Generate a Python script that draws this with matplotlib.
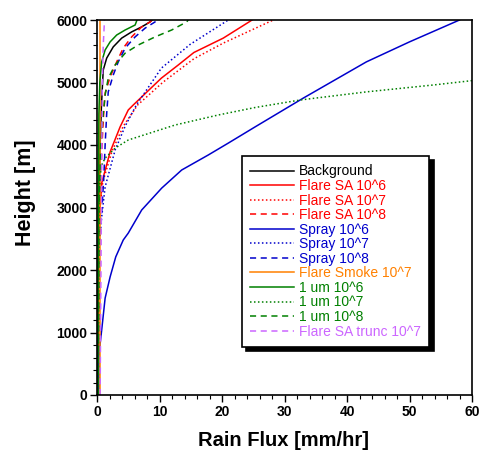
import matplotlib
matplotlib.use("Agg")
import matplotlib.pyplot as plt

plt.rcParams['font.family'] = ['Liberation Sans', 'DejaVu Sans']
plt.rcParams['font.weight'] = 'bold'

# ---- data (rain flux [mm/hr], height [m]) ----
bg_x = [0.1, 0.2, 0.4, 0.5, 0.7, 0.85, 1.0, 1.55, 2.6, 3.95, 5.55, 7.15, 8.5, 8.8]
bg_y = [0, 2000, 3500, 4000, 4600, 4910, 5200, 5390, 5570, 5710, 5810, 5890, 5970, 6000]

sa6_x = [0.2, 0.3, 0.5, 0.75, 2.1, 3.7, 5.0, 5.8, 10.3, 13.0, 15.5, 20.2, 24.5, 24.8]
sa6_y = [0, 2500, 3000, 3390, 3890, 4290, 4560, 4640, 5070, 5280, 5480, 5710, 5980, 6000]

sa7_x = [0.2, 0.3, 0.5, 0.9, 2.4, 4.2, 6.5, 10.5, 15.5, 20.2, 28.2]
sa7_y = [0, 2500, 3000, 3400, 3900, 4300, 4640, 5000, 5380, 5630, 6000]

sa8_x = [0.15, 0.3, 0.4, 0.6, 0.8, 1.0, 1.3, 2.1, 3.15, 4.2, 5.55, 7.15, 8.5, 8.8]
sa8_y = [0, 2000, 3000, 3500, 4000, 4400, 4830, 5090, 5330, 5550, 5730, 5890, 5970, 6000]

sp6_x = [0.3, 0.3, 0.75, 1.3, 2.1, 3.0, 4.2, 5.0, 7.15, 10.35, 13.55, 17.8, 21.0, 25.3, 33.0, 43.1, 50.0, 58.0]
sp6_y = [0, 640, 1040, 1550, 1890, 2210, 2480, 2590, 2960, 3310, 3600, 3840, 4030, 4290, 4750, 5330, 5650, 6000]

sp7_x = [0.2, 0.3, 0.75, 1.3, 2.9, 4.5, 6.3, 10.3, 14.9, 21.0]
sp7_y = [0, 2300, 2850, 3330, 3920, 4300, 4640, 5230, 5610, 6000]

sp8_x = [0.2, 0.4, 0.8, 1.1, 1.3, 1.55, 1.8, 2.6, 3.4, 4.5, 6.1, 7.7, 9.3, 9.5]
sp8_y = [0, 2500, 3000, 3500, 4000, 4500, 4850, 5120, 5330, 5550, 5730, 5870, 5970, 6000]

smoke_x = [0.53, 0.53]
smoke_y = [0, 6000]

um6_x = [0.1, 0.2, 0.3, 0.45, 0.75, 1.3, 2.1, 3.15, 4.5, 6.1, 6.4]
um6_y = [0, 3000, 4500, 5000, 5330, 5520, 5650, 5760, 5840, 5920, 6000]

um7_x = [0.2, 0.3, 0.5, 0.75, 1.3, 2.9, 5.0, 12.5, 19.4, 25.3, 32.5, 43.1, 53.8, 60.0]
um7_y = [0, 3000, 3500, 3680, 3790, 3950, 4080, 4320, 4480, 4600, 4720, 4850, 4960, 5030]

um8_x = [0.2, 0.3, 0.6, 1.0, 1.3, 1.8, 2.9, 4.5, 6.6, 9.3, 11.95, 14.35, 14.6]
um8_y = [0, 3000, 4000, 4500, 4800, 5070, 5280, 5470, 5600, 5730, 5840, 5970, 6000]

trunc_x = [0.5, 0.7, 0.85, 1.0, 1.2]
trunc_y = [0, 3000, 5000, 5600, 6000]

# ---- styles ----
red = '#FF0000'
blue = '#0000CC'
green = '#008000'
orange = '#FF8000'
purple = '#CC66FF'
dot = (0, (1, 1.6))
dash = (0, (4, 3))

series = [
    (bg_x, bg_y, 'black', '-', 'Background'),
    (sa6_x, sa6_y, red, '-', 'Flare SA 10^6'),
    (sa7_x, sa7_y, red, dot, 'Flare SA 10^7'),
    (sa8_x, sa8_y, red, dash, 'Flare SA 10^8'),
    (sp6_x, sp6_y, blue, '-', 'Spray 10^6'),
    (sp7_x, sp7_y, blue, dot, 'Spray 10^7'),
    (sp8_x, sp8_y, blue, dash, 'Spray 10^8'),
    (smoke_x, smoke_y, orange, '-', 'Flare Smoke 10^7'),
    (um6_x, um6_y, green, '-', '1 um 10^6'),
    (um7_x, um7_y, green, dot, '1 um 10^7'),
    (um8_x, um8_y, green, dash, '1 um 10^8'),
    (trunc_x, trunc_y, purple, dash, 'Flare SA trunc 10^7'),
]

fig = plt.figure(figsize=(4.8, 4.53), dpi=100)
ax = fig.add_axes([97 / 480, 1 - 395 / 453, 375 / 480, 375 / 453])

for x, y, c, ls, lab in series:
    ax.plot(x, y, color=c, linestyle=ls, linewidth=1.1, label=lab)

ax.set_xlim(0, 60)
ax.set_ylim(0, 6000)
ax.set_xticks(range(0, 61, 10))
ax.set_xticks(range(0, 61, 2), minor=True)
ax.set_yticks(range(0, 6001, 1000))
ax.set_yticks(range(0, 6001, 200), minor=True)
ax.tick_params(which='major', direction='out', length=5, width=1, labelsize=10, pad=2)
ax.tick_params(which='minor', direction='out', length=3, width=0.8)
for s in ax.spines.values():
    s.set_linewidth(1.2)

ax.set_xlabel('Rain Flux [mm/hr]', fontsize=14.5, fontweight='bold')
ax.set_ylabel('Height [m]', fontsize=15.5, fontweight='bold')
ax.xaxis.set_label_coords(0.496, -0.095)
ax.yaxis.set_label_coords(-0.162, 0.54)

leg = ax.legend(loc='upper left', bbox_to_anchor=(0.387, 0.637),
                prop={'size': 10, 'weight': 'normal'},
                frameon=True, fancybox=False, shadow={'color': 'black', 'alpha': 1, 'ox': 3, 'oy': -3},
                edgecolor='black', framealpha=1, handlelength=3.1, handletextpad=0.4,
                labelspacing=0.04, borderpad=0.6, borderaxespad=0)
leg.get_frame().set_linewidth(1.2)
for txt, (x, y, c, ls, lab) in zip(leg.get_texts(), series):
    txt.set_color(c)

fig.savefig('out.png', dpi=100)
